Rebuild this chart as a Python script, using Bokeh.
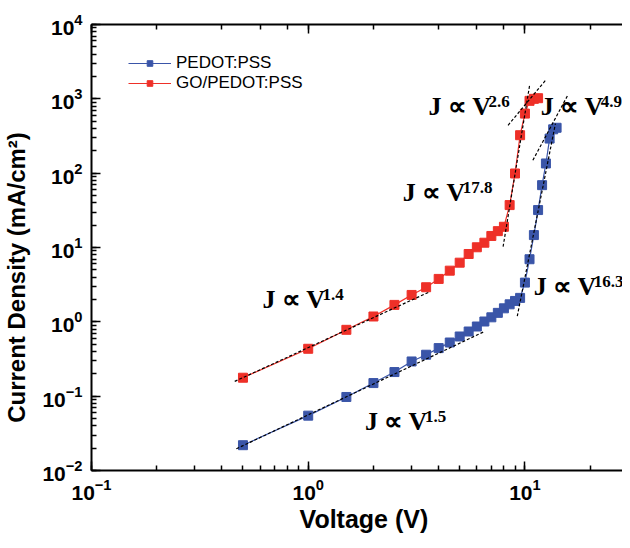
from bokeh.plotting import figure
from bokeh.models import (Range1d, LogAxis, LogTicker, ColumnDataSource, CustomJSTickFormatter,
                          Legend, LegendItem)
from bokeh.core.properties import value
from bokeh.embed import file_html
from bokeh.resources import INLINE

# ---------------- data ----------------
V_pedot = [0.5, 1.0, 1.5, 2.0, 2.5, 3.0, 3.5, 4.0, 4.5, 5.0, 5.5, 6.0, 6.5, 7.0,
           7.5, 8.0, 8.5, 9.0, 9.5, 10.0, 10.5, 11.0, 11.5, 12.0, 12.5, 13.0, 13.5, 14.0]
J_pedot = [0.0219, 0.0547, 0.0975, 0.150, 0.211, 0.293, 0.361, 0.443, 0.527, 0.635,
           0.741, 0.865, 1.01, 1.15, 1.32, 1.52, 1.72, 1.91, 2.10, 3.37, 6.95, 14.7,
           31.9, 69.0, 135.0, 292.0, 389.0, 408.0]

V_go = [0.5, 1.0, 1.5, 2.0, 2.5, 3.0, 3.5, 4.0, 4.5, 5.0, 5.5, 6.0, 6.5, 7.0,
        7.5, 8.0, 8.5, 9.0, 9.5, 10.0, 10.5, 11.0, 11.5]
J_go = [0.177, 0.434, 0.781, 1.18, 1.69, 2.30, 2.92, 3.78, 4.88, 6.25, 8.18, 10.07,
        11.6, 14.3, 16.6, 19.0, 37.2, 99.0, 324.0, 633.0, 940.0, 1000.0, 1020.0]

# power-law guide lines (end points)
fit_V = [[0.458, 3.65], [0.466, 6.5], [7.93, 10.51], [9.22, 13.83], [8.36, 12.44], [10.88, 15.75]]
fit_J = [[0.158, 2.55], [0.0196, 0.74], [10.25, 1518.0], [1.19, 465.0], [441.0, 1771.0], [149.0, 1114.0]]

# annotations
ann_exp = ["1.4", "1.5", "17.8", "16.3", "2.6", "4.9"]
ann_V = [0.615, 1.826, 2.73, 10.99, 3.59, 11.84]
ann_J = [1.97, 0.0455, 55.6, 2.95, 793.0, 793.0]

series_names = ["PEDOT:PSS", "GO/PEDOT:PSS"]
x_title = "Voltage (V)"
y_title = "Current Density (mA/cm\u00b2)"

BLUE = "#3a55a8"
RED = "#ee3028"

p = figure(width=622, height=540, x_axis_type="log", y_axis_type="log",
           x_range=Range1d(0.1, 28.2), y_range=Range1d(0.01, 1e4),
           output_backend="svg", toolbar_location=None,
           min_border_left=88, min_border_right=0, min_border_top=24, min_border_bottom=70)
p.outline_line_color = None
p.grid.visible = False


def style_axis(ax):
    ax.axis_line_width = 2
    ax.axis_line_color = "black"
    ax.major_tick_in = 9
    ax.major_tick_out = 0
    ax.minor_tick_in = 5
    ax.minor_tick_out = 0
    ax.major_tick_line_width = 1.5
    ax.minor_tick_line_width = 1.5
    ax.major_label_text_font = "Liberation Sans"
    ax.major_label_text_font_style = "bold"
    ax.major_label_text_font_size = "21px"
    ax.major_label_text_color = "black"
    ax.axis_label_text_font = "Liberation Sans"
    ax.axis_label_text_font_style = "bold"
    ax.axis_label_text_color = "black"


style_axis(p.xaxis[0])
style_axis(p.yaxis[0])
p.xaxis.axis_label = "\u00a0\u00a0" + x_title
p.yaxis.axis_label = y_title + "\u00a0" * 9
p.xaxis.axis_label_text_font_size = "25px"
p.yaxis.axis_label_text_font_size = "24px"
p.xaxis.major_label_standoff = 8
p.yaxis.major_label_standoff = 9
p.xaxis.axis_label_standoff = 2
p.yaxis.axis_label_standoff = 9

top = LogAxis(ticker=LogTicker())
style_axis(top)
top.formatter = CustomJSTickFormatter(code="return ' ';")
top.major_label_text_font_size = "1px"
top.major_label_text_alpha = 0
top.major_label_standoff = 0
p.add_layout(top, "above")

# data series
l1 = p.line(V_pedot, J_pedot, line_color=BLUE, line_width=1.2)
s1 = p.scatter(V_pedot, J_pedot, marker="square", size=9, fill_color=BLUE, line_color=BLUE)
l2 = p.line(V_go, J_go, line_color=RED, line_width=1.2)
s2 = p.scatter(V_go, J_go, marker="square", size=9, fill_color=RED, line_color=RED)

p.multi_line(fit_V, fit_J, line_color="black", line_width=1.2, line_dash="3 2")

src = ColumnDataSource(dict(x=ann_V, y=ann_J, t=["J \u221d\u2009V"] * len(ann_V), e=ann_exp))
p.text(x="x", y="y", text="t", source=src, text_font=value("Liberation Serif"),
       text_font_style="bold", text_font_size="26px", text_baseline="alphabetic",
       text_align="left", text_color="black")
p.text(x="x", y="y", text="e", source=src, text_font=value("Liberation Serif"),
       text_font_style="bold", text_font_size="17px", text_baseline="alphabetic",
       text_align="left", text_color="black", x_offset=60, y_offset=-5)


def make_legend(item, loc):
    lg = Legend(items=[item], location=loc)
    lg.border_line_color = None
    lg.background_fill_alpha = 0
    lg.label_text_font = "Liberation Sans"
    lg.label_text_font_size = "17px"
    lg.label_text_color = "black"
    lg.glyph_width = 43
    lg.glyph_height = 14
    lg.label_height = 14
    lg.spacing = 0
    lg.padding = 0
    lg.margin = 0
    lg.label_standoff = 5
    p.add_layout(lg, "center")


make_legend(LegendItem(label=series_names[0], renderers=[l1, s1]), (37, 397))
make_legend(LegendItem(label=series_names[1], renderers=[l2, s2]), (37, 377))

open("out.html", "w").write(file_html(p, INLINE))
